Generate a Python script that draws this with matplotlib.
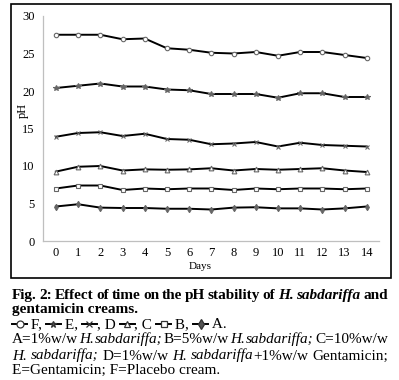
import matplotlib
matplotlib.use("Agg")
import matplotlib.pyplot as plt
from matplotlib.lines import Line2D
from matplotlib.patches import Rectangle

plt.rcParams['font.family'] = ['Liberation Serif', 'DejaVu Serif']

days = list(range(15))
ph_F = [27.5, 27.5, 27.5, 26.9, 27.0, 25.7, 25.5, 25.1, 25.0, 25.2, 24.7, 25.2, 25.2, 24.8, 24.4]
ph_E = [20.4, 20.7, 21.0, 20.6, 20.6, 20.2, 20.1, 19.6, 19.6, 19.6, 19.1, 19.7, 19.7, 19.2, 19.2]
ph_X = [13.9, 14.4, 14.5, 14.0, 14.3, 13.6, 13.5, 12.9, 13.0, 13.2, 12.6, 13.1, 12.8, 12.7, 12.6]
ph_D = [9.25, 9.9, 10.0, 9.4, 9.55, 9.5, 9.55, 9.7, 9.4, 9.6, 9.5, 9.6, 9.7, 9.4, 9.2]
ph_B = [7.0, 7.4, 7.4, 6.8, 7.0, 6.9, 7.0, 7.0, 6.8, 7.0, 6.9, 7.0, 7.0, 6.9, 7.0]
ph_A = [4.6, 4.9, 4.45, 4.4, 4.4, 4.3, 4.3, 4.2, 4.45, 4.5, 4.35, 4.35, 4.2, 4.35, 4.6]
y_ticks = [0, 5, 10, 15, 20, 25, 30]

series = [
    (ph_F, 'o', 'white', 3.2),
    (ph_E, '*', '#666666', 4.0),
    (ph_X, 'x', '#666666', 3.2),
    (ph_D, '^', 'white', 3.4),
    (ph_B, 's', 'white', 3.0),
    (ph_A, 'd', '#666666', 3.2),
]

W, H = 399, 380
fig = plt.figure(figsize=(W / 100, H / 100), dpi=100)


def fx(px):
    return px / W


def fy(py):
    return 1 - py / H


# frame around the chart
fig.patches.append(Rectangle((fx(11), fy(278)), fx(391) - fx(11), fy(4) - fy(278),
                             transform=fig.transFigure, fill=False, edgecolor='black', linewidth=1.2))

ax = fig.add_axes([fx(43), fy(241), fx(379) - fx(43), fy(16) - fy(241)])
for vals, mk, face, ms in series:
    ax.plot(days, vals, color='black', linewidth=1.4, marker=mk, markersize=ms,
            markerfacecolor=face, markeredgecolor='#666666', markeredgewidth=0.8)

ax.set_xlim(-0.58, 14.55)
ax.set_ylim(0, 30)
ax.set_yticks(y_ticks)
ax.set_xticks(days)
for s in ['top', 'right']:
    ax.spines[s].set_visible(False)
for s in ['left', 'bottom']:
    ax.spines[s].set_color('#bfbfbf')
    ax.spines[s].set_linewidth(0.9)
ax.tick_params(axis='both', length=0, labelsize=9, pad=6)
ax.tick_params(axis='x', pad=4)
ax.set_xlabel('Days', fontsize=8)
ax.xaxis.set_label_coords((200 - 43) / (379 - 43), -(262 - 241) / 225, transform=ax.transAxes)
ax.set_ylabel('pH', fontsize=9)
ax.yaxis.set_label_coords(-(43 - 29) / 336, (241 - 110) / 225, transform=ax.transAxes)

# caption
fig.canvas.draw()
renderer = fig.canvas.get_renderer()
FS = 11


def word_width(txt, **kw):
    t = fig.text(0, 0, txt, fontsize=FS, **kw)
    w = t.get_window_extent(renderer).width
    t.remove()
    return w


def draw_words(words, y, x0=12, x1=388, base=None):
    # place words so that the line fills x0..x1 (justified)
    base = base or {}
    widths = []
    for txt, st in words:
        kw = dict(base)
        kw.update(st)
        widths.append(word_width(txt, **kw))
    gap = (x1 - x0 - sum(widths)) / (len(words) - 1)
    x = x0
    for (txt, st), w in zip(words, widths):
        kw = dict(base)
        kw.update(st)
        fig.text(fx(x), fy(y), txt, fontsize=FS, va='baseline', ha='left', **kw)
        x += w + gap


IT = {'fontstyle': 'italic'}
N = {}
bold = {'fontweight': 'bold'}

line1 = [(w, N) for w in 'Fig. 2: Effect of time on the pH stability of'.split()] + \
        [('H.', IT), ('sabdariffa', IT), ('and', N)]
draw_words(line1, 299, base=bold)
fig.text(fx(12), fy(313.5), 'gentamicin creams.', fontsize=FS, fontweight='bold', va='baseline')

line4 = [('A=1%w/w', N), ('H.', IT), ('sabdariffa;', IT), ('B=5%w/w', N), ('H.', IT),
         ('sabdariffa;', IT), ('C=10%w/w', N)]
draw_words(line4, 343)

line5 = [('H.', IT), ('sabdariffa;', IT), ('D=1%w/w', N), ('H.', IT), ('sabdariffa', IT)]
widths5 = [word_width(t, **s) for t, s in line5]
tail5 = ['+1%w/w', 'Gentamicin;']
tw = [word_width(t) for t in tail5]
gap5 = (388 - 12 - sum(widths5) - sum(tw)) / len(line5)
x = 12
for (t, s), w in zip(line5, widths5):
    fig.text(fx(x), fy(359.5), t, fontsize=FS, va='baseline', **s)
    x += w + gap5
x -= gap5
fig.text(fx(x), fy(359.5), tail5[0], fontsize=FS, va='baseline')
x += tw[0] + gap5
fig.text(fx(x), fy(359.5), tail5[1], fontsize=FS, va='baseline')

fig.text(fx(12), fy(374), 'E=Gentamicin; F=Placebo cream.', fontsize=FS, va='baseline')

# legend line built from glyphs and text
legend_items = [('g', 'o', 'white'), ('t', ' F, '), ('g', '*', '#555555'), ('t', ' E, '),
                ('g', 'x', '#555555'), ('t', ', D '), ('g', '^', 'white'), ('t', ', C '),
                ('g', 's', 'white'), ('t', ' B, '), ('g', 'd', '#555555'), ('t', ' A.')]
x = 12
yl = 328
for item in legend_items:
    if item[0] == 'g':
        seg = 15
        fig.lines.append(Line2D([fx(x), fx(x + seg)], [fy(yl - 4), fy(yl - 4)],
                                transform=fig.transFigure, color='black', linewidth=1.4))
        fig.lines.append(Line2D([fx(x + seg / 2)], [fy(yl - 4)], transform=fig.transFigure,
                                marker=item[1], markersize=5, markerfacecolor=item[2],
                                markeredgecolor='#333333', markeredgewidth=0.9, linestyle='none'))
        x += seg
    else:
        txt = item[1].replace(' ', '\u00a0')
        w = word_width(txt)
        fig.text(fx(x), fy(yl), txt, fontsize=FS, va='baseline')
        x += w

fig.savefig('out.png', dpi=100)
